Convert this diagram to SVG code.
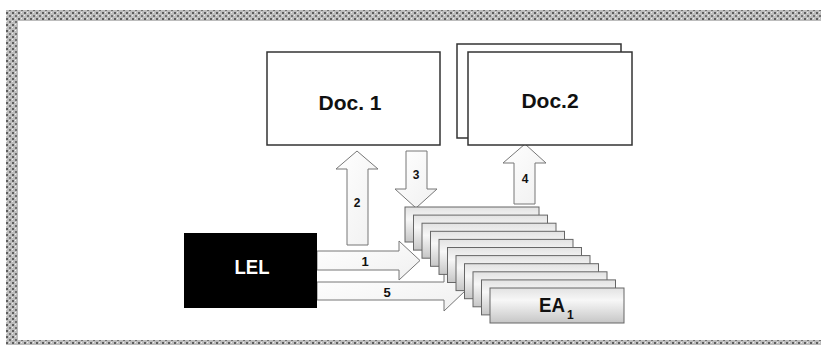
<svg xmlns="http://www.w3.org/2000/svg" width="821" height="345" viewBox="0 0 821 345">
<defs>
<pattern id="bd" width="6" height="6" patternUnits="userSpaceOnUse">
<rect width="6" height="6" fill="#bdbdbd"/>
<rect x="0" y="0" width="2" height="2" fill="#5e5e5e"/>
<rect x="3" y="3" width="2" height="2" fill="#707070"/>
<rect x="3" y="0" width="1" height="1" fill="#eee"/>
<rect x="0" y="3" width="1" height="1" fill="#eee"/>
</pattern>
<linearGradient id="card" x1="0" y1="0" x2="0" y2="1">
<stop offset="0" stop-color="#e2e2e2"/>
<stop offset="0.35" stop-color="#f7f7f7"/>
<stop offset="1" stop-color="#c6c6c6"/>
</linearGradient>
<linearGradient id="arr" x1="0" y1="0" x2="1" y2="1">
<stop offset="0" stop-color="#ffffff"/>
<stop offset="1" stop-color="#f0f0f0"/>
</linearGradient>
</defs>
<style>
.doc{fill:#fff;stroke:#333;stroke-width:1.5}
.arrow{fill:url(#arr);stroke:#777;stroke-width:1}
.card{fill:url(#card);stroke:#666;stroke-width:1}
.t{font-family:"Liberation Sans",Arial,sans-serif;font-weight:bold;fill:#111;text-anchor:middle}
.n{font-size:12px}
</style>
<rect width="821" height="345" fill="#fff"/>
<path d="M6,10 H840 V360 H6 Z M18,21 V340 H830 V21 Z" fill="url(#bd)" fill-rule="evenodd"/>

<g id="connectors">
<path class="arrow" d="M347,245 L347,169 L336,169 L357,151 L378,169 L368,169 L368,245 Z"/>
<path class="arrow" d="M406,151 L427,151 L427,189 L437,189 L416,208 L395,189 L406,189 Z"/>
<path class="arrow" d="M514,204 L514,163 L503,163 L525,144 L546,163 L535,163 L535,204 Z"/>
<path class="arrow" d="M317,251 L399,251 L399,241 L420,260.5 L399,280 L399,270 L317,270 Z"/>
<path class="arrow" d="M317,282 L444,282 L444,271 L465,291 L444,311 L444,300 L317,300 Z"/>
<text class="t n" x="357" y="207">2</text>
<text class="t n" x="416" y="179">3</text>
<text class="t n" x="525" y="183">4</text>
<text class="t" x="365" y="266" font-size="13">1</text>
<text class="t" x="387" y="297" font-size="13">5</text>
</g>

<g id="doc1">
<rect class="doc" x="267" y="52" width="173" height="93"/>
<text class="t" x="350" y="110" font-size="21">Doc. 1</text>
</g>

<g id="doc2">
<rect class="doc" x="457" y="44" width="164" height="94" stroke-width="1"/>
<rect class="doc" x="468" y="52" width="164" height="93"/>
<text class="t" x="550" y="108" font-size="21">Doc.2</text>
</g>

<g id="lel">
<rect x="184" y="233" width="133" height="75" fill="#000"/>
<text class="t" x="252" y="274" font-size="20" style="fill:#fff" textLength="35" lengthAdjust="spacingAndGlyphs">LEL</text>
</g>

<g id="ea-stack">
<rect class="card" x="405" y="207" width="134" height="35"/>
<rect class="card" x="413.5" y="215.1" width="134" height="35"/>
<rect class="card" x="422" y="223.2" width="134" height="35"/>
<rect class="card" x="430.5" y="231.3" width="134" height="35"/>
<rect class="card" x="439" y="239.4" width="134" height="35"/>
<rect class="card" x="447.5" y="247.5" width="134" height="35"/>
<rect class="card" x="456" y="255.6" width="134" height="35"/>
<rect class="card" x="464.5" y="263.7" width="134" height="35"/>
<rect class="card" x="473" y="271.8" width="134" height="35"/>
<rect class="card" x="481.5" y="279.9" width="134" height="35"/>
<rect class="card" x="490" y="288" width="134" height="35"/>
<text class="t" x="539" y="312" font-size="21" style="text-anchor:start" textLength="26" lengthAdjust="spacingAndGlyphs">EA</text>
<text class="t" x="567" y="319" font-size="12" style="text-anchor:start">1</text>
</g>
</svg>
